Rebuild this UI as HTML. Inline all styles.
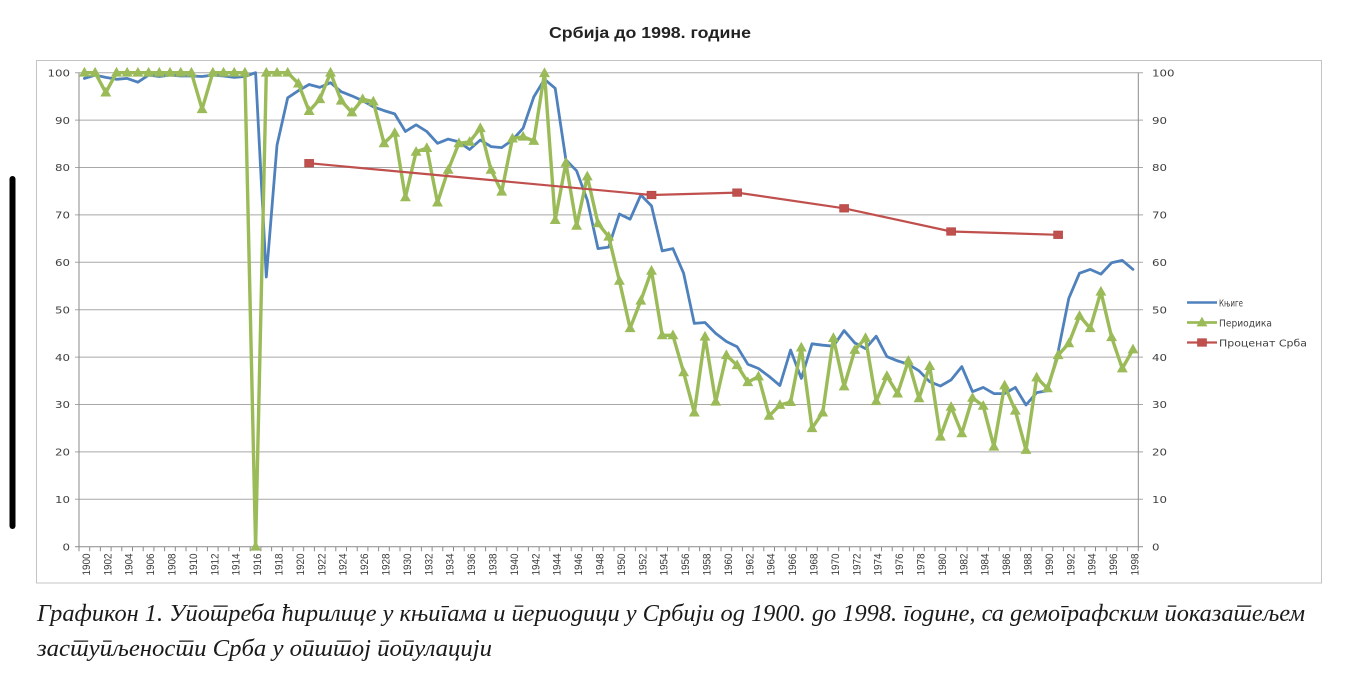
<!DOCTYPE html>
<html>
<head>
<meta charset="utf-8">
<style>
html,body{margin:0;padding:0;background:#fff;}
body{width:1350px;height:699px;overflow:hidden;}
svg{display:block;}
.ax{font-family:"DejaVu Sans","Liberation Sans",sans-serif;font-size:10px;fill:#404040;}
.xl{font-family:"Liberation Sans",sans-serif;font-size:11px;fill:#404040;}
.lg{font-family:"DejaVu Sans","Liberation Sans",sans-serif;font-size:10px;fill:#404040;}
.cap{font-family:"Liberation Serif","DejaVu Serif",serif;font-style:italic;font-size:24px;fill:#1a1a1a;}
</style>
</head>
<body>
<svg width="1350" height="699" viewBox="0 0 1350 699" xmlns="http://www.w3.org/2000/svg">
<defs>
<path id="t" d="M0,-4.8 L4.6,3.4 L-4.6,3.4 Z" fill="#9bbb59" stroke="#9bbb59" stroke-width="1"/>
<rect id="s" x="-4.5" y="-3.8" width="9" height="7.6" fill="#c0504d" stroke="#b04542" stroke-width="0.6"/>
</defs>

<!-- left black bar -->
<rect x="9.5" y="176" width="6" height="353" rx="3" fill="#000"/>

<!-- title -->
<text x="549" y="38" font-family="Liberation Sans, sans-serif" font-size="16" font-weight="bold" fill="#222" textLength="202" lengthAdjust="spacingAndGlyphs">Србија до 1998. године</text>

<!-- chart frame -->
<rect x="36.5" y="60.5" width="1285" height="522.5" fill="none" stroke="#c4c4c4" stroke-width="1"/>

<!-- gridlines -->
<g stroke="#a8a8a8" stroke-width="1">
<line x1="75" y1="72.7" x2="1143" y2="72.7"/>
<line x1="75" y1="120.1" x2="1143" y2="120.1"/>
<line x1="75" y1="167.5" x2="1143" y2="167.5"/>
<line x1="75" y1="214.9" x2="1143" y2="214.9"/>
<line x1="75" y1="262.3" x2="1143" y2="262.3"/>
<line x1="75" y1="309.7" x2="1143" y2="309.7"/>
<line x1="75" y1="357.1" x2="1143" y2="357.1"/>
<line x1="75" y1="404.5" x2="1143" y2="404.5"/>
<line x1="75" y1="451.9" x2="1143" y2="451.9"/>
<line x1="75" y1="499.3" x2="1143" y2="499.3"/>
</g>
<!-- axes -->
<g stroke="#8a8a8a" stroke-width="1">
<line x1="79" y1="72.7" x2="79" y2="546.7"/>
<line x1="1138.3" y1="72.7" x2="1138.3" y2="546.7"/>
<line x1="75" y1="546.7" x2="1143" y2="546.7"/>
</g>
<line x1="78.5" y1="549" x2="1139" y2="549" stroke="#8a8a8a" stroke-width="4.6" stroke-dasharray="1 9.7"/>

<!-- left axis labels -->
<g class="ax" text-anchor="end" transform="translate(70,0) scale(1.18,1) translate(-70,0)">
<text x="70" y="76.4">100</text>
<text x="70" y="123.8">90</text>
<text x="70" y="171.2">80</text>
<text x="70" y="218.6">70</text>
<text x="70" y="266">60</text>
<text x="70" y="313.4">50</text>
<text x="70" y="360.8">40</text>
<text x="70" y="408.2">30</text>
<text x="70" y="455.6">20</text>
<text x="70" y="503">10</text>
<text x="70" y="550.4">0</text>
</g>
<!-- right axis labels -->
<g class="ax" transform="translate(1152,0) scale(1.18,1) translate(-1152,0)">
<text x="1152" y="76.4">100</text>
<text x="1152" y="123.8">90</text>
<text x="1152" y="171.2">80</text>
<text x="1152" y="218.6">70</text>
<text x="1152" y="266">60</text>
<text x="1152" y="313.4">50</text>
<text x="1152" y="360.8">40</text>
<text x="1152" y="408.2">30</text>
<text x="1152" y="455.6">20</text>
<text x="1152" y="503">10</text>
<text x="1152" y="550.4">0</text>
</g>

<!-- x labels -->
<g class="xl" text-anchor="end" transform="translate(-1.1,0)">
<text transform="translate(91,553.5) rotate(-90)" textLength="22" lengthAdjust="spacingAndGlyphs">1900</text>
<text transform="translate(112.4,553.5) rotate(-90)" textLength="22" lengthAdjust="spacingAndGlyphs">1902</text>
<text transform="translate(133.8,553.5) rotate(-90)" textLength="22" lengthAdjust="spacingAndGlyphs">1904</text>
<text transform="translate(155.2,553.5) rotate(-90)" textLength="22" lengthAdjust="spacingAndGlyphs">1906</text>
<text transform="translate(176.6,553.5) rotate(-90)" textLength="22" lengthAdjust="spacingAndGlyphs">1908</text>
<text transform="translate(198,553.5) rotate(-90)" textLength="22" lengthAdjust="spacingAndGlyphs">1910</text>
<text transform="translate(219.4,553.5) rotate(-90)" textLength="22" lengthAdjust="spacingAndGlyphs">1912</text>
<text transform="translate(240.8,553.5) rotate(-90)" textLength="22" lengthAdjust="spacingAndGlyphs">1914</text>
<text transform="translate(262.2,553.5) rotate(-90)" textLength="22" lengthAdjust="spacingAndGlyphs">1916</text>
<text transform="translate(283.6,553.5) rotate(-90)" textLength="22" lengthAdjust="spacingAndGlyphs">1918</text>
<text transform="translate(305,553.5) rotate(-90)" textLength="22" lengthAdjust="spacingAndGlyphs">1920</text>
<text transform="translate(326.4,553.5) rotate(-90)" textLength="22" lengthAdjust="spacingAndGlyphs">1922</text>
<text transform="translate(347.8,553.5) rotate(-90)" textLength="22" lengthAdjust="spacingAndGlyphs">1924</text>
<text transform="translate(369.2,553.5) rotate(-90)" textLength="22" lengthAdjust="spacingAndGlyphs">1926</text>
<text transform="translate(390.6,553.5) rotate(-90)" textLength="22" lengthAdjust="spacingAndGlyphs">1928</text>
<text transform="translate(412,553.5) rotate(-90)" textLength="22" lengthAdjust="spacingAndGlyphs">1930</text>
<text transform="translate(433.4,553.5) rotate(-90)" textLength="22" lengthAdjust="spacingAndGlyphs">1932</text>
<text transform="translate(454.8,553.5) rotate(-90)" textLength="22" lengthAdjust="spacingAndGlyphs">1934</text>
<text transform="translate(476.2,553.5) rotate(-90)" textLength="22" lengthAdjust="spacingAndGlyphs">1936</text>
<text transform="translate(497.6,553.5) rotate(-90)" textLength="22" lengthAdjust="spacingAndGlyphs">1938</text>
<text transform="translate(519,553.5) rotate(-90)" textLength="22" lengthAdjust="spacingAndGlyphs">1940</text>
<text transform="translate(540.4,553.5) rotate(-90)" textLength="22" lengthAdjust="spacingAndGlyphs">1942</text>
<text transform="translate(561.8,553.5) rotate(-90)" textLength="22" lengthAdjust="spacingAndGlyphs">1944</text>
<text transform="translate(583.2,553.5) rotate(-90)" textLength="22" lengthAdjust="spacingAndGlyphs">1946</text>
<text transform="translate(604.6,553.5) rotate(-90)" textLength="22" lengthAdjust="spacingAndGlyphs">1948</text>
<text transform="translate(626,553.5) rotate(-90)" textLength="22" lengthAdjust="spacingAndGlyphs">1950</text>
<text transform="translate(647.4,553.5) rotate(-90)" textLength="22" lengthAdjust="spacingAndGlyphs">1952</text>
<text transform="translate(668.8,553.5) rotate(-90)" textLength="22" lengthAdjust="spacingAndGlyphs">1954</text>
<text transform="translate(690.2,553.5) rotate(-90)" textLength="22" lengthAdjust="spacingAndGlyphs">1956</text>
<text transform="translate(711.6,553.5) rotate(-90)" textLength="22" lengthAdjust="spacingAndGlyphs">1958</text>
<text transform="translate(733,553.5) rotate(-90)" textLength="22" lengthAdjust="spacingAndGlyphs">1960</text>
<text transform="translate(754.4,553.5) rotate(-90)" textLength="22" lengthAdjust="spacingAndGlyphs">1962</text>
<text transform="translate(775.8,553.5) rotate(-90)" textLength="22" lengthAdjust="spacingAndGlyphs">1964</text>
<text transform="translate(797.2,553.5) rotate(-90)" textLength="22" lengthAdjust="spacingAndGlyphs">1966</text>
<text transform="translate(818.6,553.5) rotate(-90)" textLength="22" lengthAdjust="spacingAndGlyphs">1968</text>
<text transform="translate(840,553.5) rotate(-90)" textLength="22" lengthAdjust="spacingAndGlyphs">1970</text>
<text transform="translate(861.4,553.5) rotate(-90)" textLength="22" lengthAdjust="spacingAndGlyphs">1972</text>
<text transform="translate(882.8,553.5) rotate(-90)" textLength="22" lengthAdjust="spacingAndGlyphs">1974</text>
<text transform="translate(904.2,553.5) rotate(-90)" textLength="22" lengthAdjust="spacingAndGlyphs">1976</text>
<text transform="translate(925.6,553.5) rotate(-90)" textLength="22" lengthAdjust="spacingAndGlyphs">1978</text>
<text transform="translate(947,553.5) rotate(-90)" textLength="22" lengthAdjust="spacingAndGlyphs">1980</text>
<text transform="translate(968.4,553.5) rotate(-90)" textLength="22" lengthAdjust="spacingAndGlyphs">1982</text>
<text transform="translate(989.8,553.5) rotate(-90)" textLength="22" lengthAdjust="spacingAndGlyphs">1984</text>
<text transform="translate(1011.2,553.5) rotate(-90)" textLength="22" lengthAdjust="spacingAndGlyphs">1986</text>
<text transform="translate(1032.6,553.5) rotate(-90)" textLength="22" lengthAdjust="spacingAndGlyphs">1988</text>
<text transform="translate(1054,553.5) rotate(-90)" textLength="22" lengthAdjust="spacingAndGlyphs">1990</text>
<text transform="translate(1075.4,553.5) rotate(-90)" textLength="22" lengthAdjust="spacingAndGlyphs">1992</text>
<text transform="translate(1096.8,553.5) rotate(-90)" textLength="22" lengthAdjust="spacingAndGlyphs">1994</text>
<text transform="translate(1118.2,553.5) rotate(-90)" textLength="22" lengthAdjust="spacingAndGlyphs">1996</text>
<text transform="translate(1139.6,553.5) rotate(-90)" textLength="22" lengthAdjust="spacingAndGlyphs">1998</text>
</g>

<!-- Книге (blue) -->
<polyline fill="none" stroke="#4f81bd" stroke-width="2.8" stroke-linejoin="round" stroke-linecap="round" points="84.4,78.4 95.1,75.1 105.8,77.4 116.5,79.3 127.2,78.4 137.9,82.2 148.6,75.1 159.3,76.5 170,75.1 180.7,76 191.4,76 202.1,76.5 212.8,75.1 223.5,76 234.2,77.4 244.9,76.5 255.6,72.7 266.3,277 277,145.2 287.7,97.8 298.4,90.7 309.1,84.5 319.8,87.4 330.5,82.7 341.2,91.7 351.9,95.9 362.6,100.7 373.3,106.8 384,110.6 394.7,113.9 405.4,131.5 416.1,124.8 426.8,131.5 437.5,143.3 448.2,139.1 458.9,141.9 469.6,149.5 480.3,140 491,146.6 501.7,147.6 512.4,140 523.1,128.2 533.8,96.9 544.5,79.3 555.2,88.3 565.9,159.9 576.6,170.8 587.3,200.2 598,248.6 608.7,247.1 619.4,214 630.1,219.2 640.8,195 651.5,205.9 662.2,250.9 672.9,248.6 683.6,273.2 694.3,323.4 705,322.5 715.7,333.4 726.4,341.5 737.1,346.7 747.8,364.2 758.5,368.5 769.2,376.5 779.9,385.5 790.6,350 801.3,378.4 812,343.8 822.7,345.2 833.4,346.2 844.1,330.6 854.8,342.9 865.5,348.6 876.2,336.2 886.9,356.6 897.6,360.9 908.3,364.2 919,370.8 929.7,381.7 940.4,386 951.1,379.9 961.8,366.6 972.5,391.7 983.2,387.4 993.9,393.6 1004.6,393.6 1015.3,387.4 1026,405 1036.7,392.6 1047.4,390.8 1058.1,351.9 1068.8,298.3 1079.5,273.2 1090.2,269.4 1100.9,274.1 1111.6,262.8 1122.3,260.4 1133,269.4"/>

<!-- Периодика (green) -->
<polyline fill="none" stroke="#9bbb59" stroke-width="3.4" stroke-linejoin="round" stroke-linecap="round" points="84.4,72.7 95.1,72.7 105.8,92.6 116.5,72.7 127.2,72.7 137.9,72.7 148.6,72.7 159.3,72.7 170,72.7 180.7,72.7 191.4,72.7 202.1,109.2 212.8,72.7 223.5,72.7 234.2,72.7 244.9,72.7 255.6,546.7 266.3,72.7 277,72.7 287.7,72.7 298.4,83.6 309.1,111.1 319.8,99.2 330.5,72.7 341.2,100.7 351.9,112.5 362.6,99.2 373.3,101.6 384,143.3 394.7,132.9 405.4,197.4 416.1,151.9 426.8,148.1 437.5,202.6 448.2,169.9 458.9,143.3 469.6,141.9 480.3,128.2 491,169.9 501.7,191.7 512.4,138.6 523.1,136.7 533.8,141 544.5,73.2 555.2,220.1 565.9,162.8 576.6,225.8 587.3,176.5 598,223.4 608.7,236.7 619.4,280.8 630.1,328.2 640.8,300.7 651.5,270.8 662.2,335.3 672.9,335.3 683.6,372.3 694.3,412.6 705,336.7 715.7,401.7 726.4,355.2 737.1,365.2 747.8,382.2 758.5,376.5 769.2,415.9 779.9,405 790.6,402.1 801.3,347.6 812,428.2 822.7,412.6 833.4,338.1 844.1,386.5 854.8,350 865.5,338.1 876.2,401.2 886.9,376.1 897.6,393.6 908.3,360.9 919,398.3 929.7,366.1 940.4,436.7 951.1,406.9 961.8,433.4 972.5,397.9 983.2,405.9 993.9,446.7 1004.6,385.5 1015.3,410.7 1026,450 1036.7,377.5 1047.4,388.4 1058.1,355.2 1068.8,343.4 1079.5,315.9 1090.2,328.2 1100.9,291.7 1111.6,337.2 1122.3,368.5 1133,349.5"/>
<g>
<use href="#t" x="84.4" y="72.7"/><use href="#t" x="95.1" y="72.7"/><use href="#t" x="105.8" y="92.6"/><use href="#t" x="116.5" y="72.7"/><use href="#t" x="127.2" y="72.7"/><use href="#t" x="137.9" y="72.7"/><use href="#t" x="148.6" y="72.7"/><use href="#t" x="159.3" y="72.7"/><use href="#t" x="170" y="72.7"/><use href="#t" x="180.7" y="72.7"/>
<use href="#t" x="191.4" y="72.7"/><use href="#t" x="202.1" y="109.2"/><use href="#t" x="212.8" y="72.7"/><use href="#t" x="223.5" y="72.7"/><use href="#t" x="234.2" y="72.7"/><use href="#t" x="244.9" y="72.7"/><use href="#t" x="255.6" y="546.7"/><use href="#t" x="266.3" y="72.7"/><use href="#t" x="277" y="72.7"/><use href="#t" x="287.7" y="72.7"/>
<use href="#t" x="298.4" y="83.6"/><use href="#t" x="309.1" y="111.1"/><use href="#t" x="319.8" y="99.2"/><use href="#t" x="330.5" y="72.7"/><use href="#t" x="341.2" y="100.7"/><use href="#t" x="351.9" y="112.5"/><use href="#t" x="362.6" y="99.2"/><use href="#t" x="373.3" y="101.6"/><use href="#t" x="384" y="143.3"/><use href="#t" x="394.7" y="132.9"/>
<use href="#t" x="405.4" y="197.4"/><use href="#t" x="416.1" y="151.9"/><use href="#t" x="426.8" y="148.1"/><use href="#t" x="437.5" y="202.6"/><use href="#t" x="448.2" y="169.9"/><use href="#t" x="458.9" y="143.3"/><use href="#t" x="469.6" y="141.9"/><use href="#t" x="480.3" y="128.2"/><use href="#t" x="491" y="169.9"/><use href="#t" x="501.7" y="191.7"/>
<use href="#t" x="512.4" y="138.6"/><use href="#t" x="523.1" y="136.7"/><use href="#t" x="533.8" y="141"/><use href="#t" x="544.5" y="73.2"/><use href="#t" x="555.2" y="220.1"/><use href="#t" x="565.9" y="162.8"/><use href="#t" x="576.6" y="225.8"/><use href="#t" x="587.3" y="176.5"/><use href="#t" x="598" y="223.4"/><use href="#t" x="608.7" y="236.7"/>
<use href="#t" x="619.4" y="280.8"/><use href="#t" x="630.1" y="328.2"/><use href="#t" x="640.8" y="300.7"/><use href="#t" x="651.5" y="270.8"/><use href="#t" x="662.2" y="335.3"/><use href="#t" x="672.9" y="335.3"/><use href="#t" x="683.6" y="372.3"/><use href="#t" x="694.3" y="412.6"/><use href="#t" x="705" y="336.7"/><use href="#t" x="715.7" y="401.7"/>
<use href="#t" x="726.4" y="355.2"/><use href="#t" x="737.1" y="365.2"/><use href="#t" x="747.8" y="382.2"/><use href="#t" x="758.5" y="376.5"/><use href="#t" x="769.2" y="415.9"/><use href="#t" x="779.9" y="405"/><use href="#t" x="790.6" y="402.1"/><use href="#t" x="801.3" y="347.6"/><use href="#t" x="812" y="428.2"/><use href="#t" x="822.7" y="412.6"/>
<use href="#t" x="833.4" y="338.1"/><use href="#t" x="844.1" y="386.5"/><use href="#t" x="854.8" y="350"/><use href="#t" x="865.5" y="338.1"/><use href="#t" x="876.2" y="401.2"/><use href="#t" x="886.9" y="376.1"/><use href="#t" x="897.6" y="393.6"/><use href="#t" x="908.3" y="360.9"/><use href="#t" x="919" y="398.3"/><use href="#t" x="929.7" y="366.1"/>
<use href="#t" x="940.4" y="436.7"/><use href="#t" x="951.1" y="406.9"/><use href="#t" x="961.8" y="433.4"/><use href="#t" x="972.5" y="397.9"/><use href="#t" x="983.2" y="405.9"/><use href="#t" x="993.9" y="446.7"/><use href="#t" x="1004.6" y="385.5"/><use href="#t" x="1015.3" y="410.7"/><use href="#t" x="1026" y="450"/><use href="#t" x="1036.7" y="377.5"/>
<use href="#t" x="1047.4" y="388.4"/><use href="#t" x="1058.1" y="355.2"/><use href="#t" x="1068.8" y="343.4"/><use href="#t" x="1079.5" y="315.9"/><use href="#t" x="1090.2" y="328.2"/><use href="#t" x="1100.9" y="291.7"/><use href="#t" x="1111.6" y="337.2"/><use href="#t" x="1122.3" y="368.5"/><use href="#t" x="1133" y="349.5"/>
</g>

<!-- Проценат Срба (red) -->
<polyline fill="none" stroke="#c0504d" stroke-width="2.2" stroke-linejoin="round" points="309.1,163.2 651.5,195 737.1,192.6 844.1,208.3 951.1,231.5 1058.1,234.8"/>
<use href="#s" x="309.1" y="163.2"/><use href="#s" x="651.5" y="195"/><use href="#s" x="737.1" y="192.6"/><use href="#s" x="844.1" y="208.3"/><use href="#s" x="951.1" y="231.5"/><use href="#s" x="1058.1" y="234.8"/>

<!-- legend -->
<line x1="1187" y1="302.5" x2="1217" y2="302.5" stroke="#4f81bd" stroke-width="2.6"/>
<line x1="1187" y1="322.5" x2="1217" y2="322.5" stroke="#9bbb59" stroke-width="2.8"/>
<use href="#t" x="1202" y="322.5"/>
<line x1="1187" y1="342.5" x2="1217" y2="342.5" stroke="#c0504d" stroke-width="2.2"/>
<use href="#s" x="1202" y="342.5"/>
<g class="lg">
<text x="1219" y="306.3" textLength="24" lengthAdjust="spacingAndGlyphs">Књиге</text>
<text x="1219" y="326.3" textLength="53" lengthAdjust="spacingAndGlyphs">Периодика</text>
<text x="1219" y="346.3" textLength="88" lengthAdjust="spacingAndGlyphs">Проценат Срба</text>
</g>

<!-- caption -->
<text class="cap" lang="sr" x="37" y="621" textLength="1268" lengthAdjust="spacingAndGlyphs">Графикон 1. Употреба ћирилице у књигама и периодици у Србији од 1900. до 1998. године, са демографским показатељем</text>
<text class="cap" lang="sr" x="37" y="656" textLength="455" lengthAdjust="spacingAndGlyphs">заступљености Срба у општој популацији</text>
</svg>
</body>
</html>
